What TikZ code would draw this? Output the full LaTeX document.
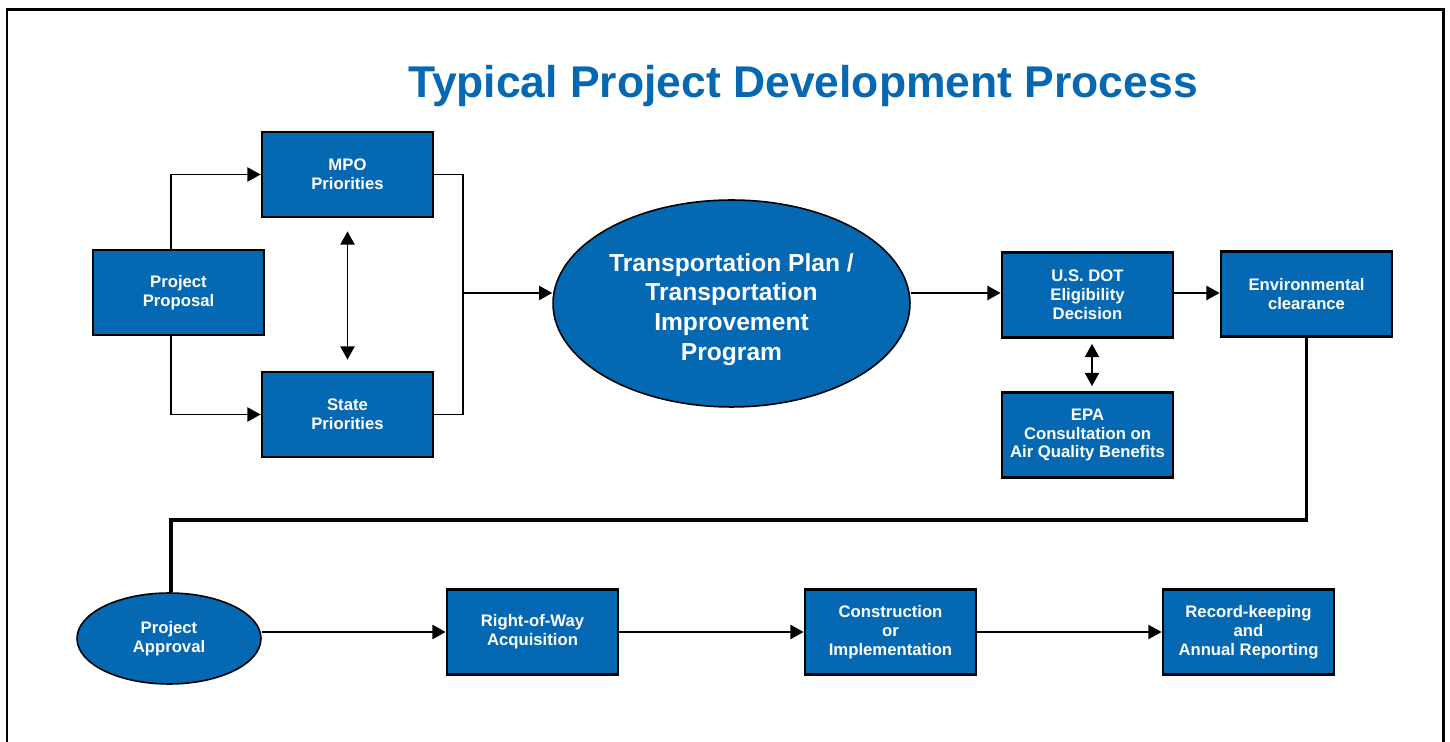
\documentclass[tikz,border=0pt]{standalone}
\usepackage{fontspec}
\setmainfont{Liberation Sans}
\usetikzlibrary{shapes.geometric,arrows.meta}
\definecolor{dotblue}{RGB}{4,104,178}

\begin{document}
\begin{tikzpicture}[x=0.02cm,y=-0.02cm,
  blk/.style={draw=black,line width=1.6pt,fill=dotblue,text=white,align=center,
    font=\bfseries\fontsize{9.5}{10.8}\selectfont,minimum width=3.42cm,minimum height=1.7cm,inner sep=0pt},
  oval/.style={ellipse,draw=black,line width=0.9pt,fill=dotblue,text=white,align=center,inner sep=0pt},
  link/.style={line width=1.1pt},
  conn/.style={line width=1.1pt,-{Triangle[length=7.5pt,width=8pt]}},
  both/.style={line width=1.1pt,{Triangle[length=7.5pt,width=8pt]}-{Triangle[length=7.5pt,width=8pt]}}]
  \useasboundingbox (0,0) rectangle (1450,742);
  \draw[line width=1.7pt] (7,742) -- (7,10) -- (1443,10) -- (1443,742);
  \node[text=dotblue,font=\bfseries\fontsize{25.3}{30}\selectfont] (ttl) at (803,86) {Typical Project Development Process};

  \node[blk] (prop) at (178.5,292.5) {Project\\Proposal};
  \node[blk] (mpo) at (347.5,174.5) {MPO\\Priorities};
  \node[blk] (state) at (347.5,414.5) {State\\Priorities};
  \node[oval,minimum width=7.14cm,minimum height=4.14cm,font=\bfseries\fontsize{14}{17}\selectfont] (tip) at (731.5,303.5)
    {\rule{0pt}{17pt}Transportation Plan /\\Transportation\\Improvement\\Program};
  \node[blk] (dot) at (1087.5,295) {U.S. DOT\\Eligibility\\Decision};
  \node[blk] (epa) at (1087.5,435) {EPA\\Consultation on\\Air Quality Benefits};
  \node[blk] (env) at (1306.5,294) {Environmental\\clearance};
  \node[oval,minimum width=3.68cm,minimum height=1.82cm,font=\bfseries\fontsize{9.5}{10.8}\selectfont] (appr) at (169,638.5) {Project\\Approval};
  \node[blk] (row) at (532.5,632) {Right-of-Way\\Acquisition};
  \node[blk] (cons) at (890.5,632) {Construction\\or\\Implementation};
  \node[blk] (rec) at (1248.5,632) {Record-keeping\\and\\Annual Reporting};

  \coordinate (join) at (463,293);
  \draw[conn] ([xshift=-0.15cm]prop.north) |- (mpo.west);
  \draw[conn] ([xshift=-0.15cm]prop.south) |- (state.west);
  \draw[both,shorten <=0.26cm,shorten >=0.22cm] (mpo.south) -- (state.north);
  \draw[link] (mpo.east) -| (join);
  \draw[link] (state.east) -| (join);
  \draw[conn] (join) -- (tip.west |- join);
  \draw[conn] (tip.east |- join) -- (dot.west |- join);
  \draw[both,shorten <=0.1cm,shorten >=0.1cm] ([xshift=0.09cm]dot.south) -- ([xshift=0.09cm]epa.north);
  \draw[conn] (dot.east |- join) -- (env.west |- join);
  \draw[line width=1.9pt] (env.south) -- ++(0,182) -| ([xshift=0.04cm]appr.north);
  \draw[conn] (row.west -| appr.east) -- (row.west);
  \draw[conn] (row) -- (cons);
  \draw[conn] (cons) -- (rec);
\end{tikzpicture}
\end{document}
